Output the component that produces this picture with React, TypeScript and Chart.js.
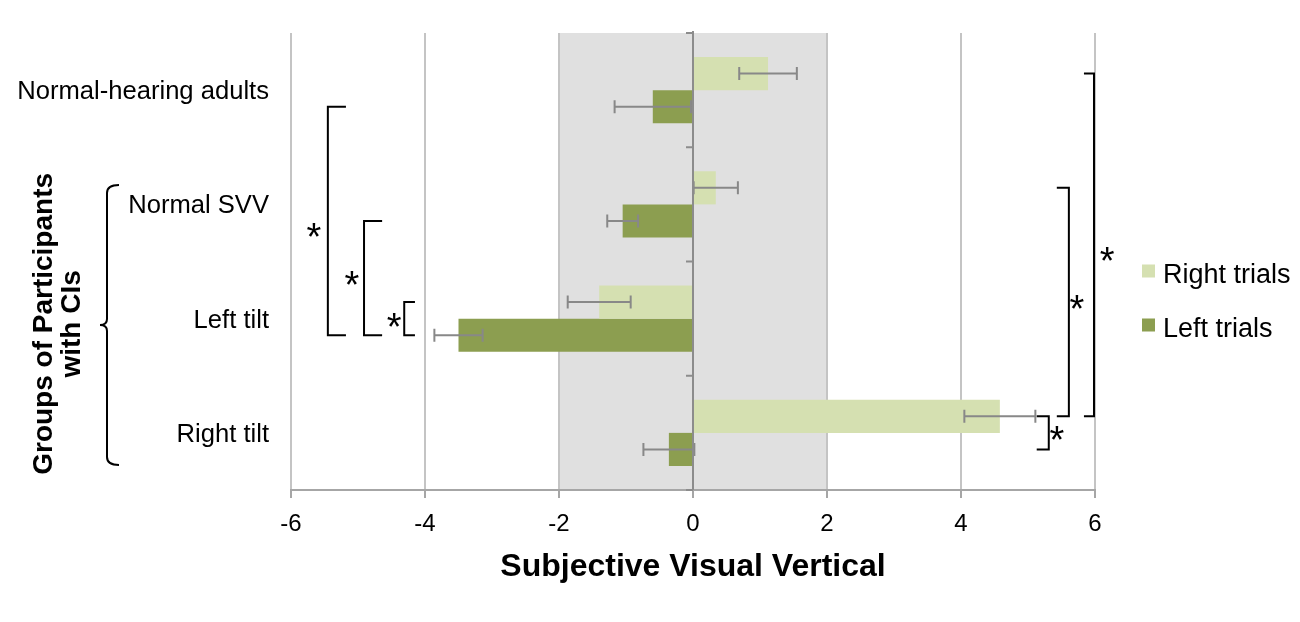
import React, { useEffect, useRef } from 'react';
import { Chart, registerables } from 'chart.js';

Chart.register(...registerables);

// ---------- data ----------
const categories = ['Normal-hearing adults', 'Normal SVV', 'Left tilt', 'Right tilt'];
const seriesNames = ['Right trials', 'Left trials'];
const rightTrials = [1.12, 0.34, -1.4, 4.58];
const rightErrors = [0.43, 0.33, 0.47, 0.53];
const leftTrials = [-0.6, -1.05, -3.5, -0.36];
const leftErrors = [0.57, 0.23, 0.36, 0.38];
const xMin = -6;
const xMax = 6;
const xStep = 2;
const normalRange = [-2, 2];
const yTitleLines = ['Groups of Participants', 'with CIs'];
const xTitle = 'Subjective Visual Vertical';

// significance brackets: vertical line at x (data units), joining bar [category, dataset] pairs
const brackets = [
  { x: -5.45, arm: 0.27, from: [0, 1], to: [2, 1], starX: -5.66, starShift: 9 },
  { x: -4.91, arm: 0.27, from: [1, 1], to: [2, 1], starX: -5.09, starShift: 0 },
  { x: -4.31, arm: 0.16, from: [2, 0], to: [2, 1], starX: -4.46, starShift: 1 },
  { x: 5.985, arm: -0.15, from: [0, 0], to: [3, 0], starX: 6.18, starShift: 9 },
  { x: 5.61, arm: -0.18, from: [1, 0], to: [3, 0], starX: 5.73, starShift: 0 },
  { x: 5.31, arm: -0.18, from: [3, 0], to: [3, 1], starX: 5.43, starShift: 0 },
];

const LIGHT = '#d5e0b1';
const DARK = '#8c9e50';
const FONT = "'Liberation Sans', Arial, Helvetica, sans-serif";

const overlay = {
  id: 'overlay',
  beforeDraw(chart: any) {
    const { ctx, chartArea } = chart;
    const xs = chart.scales.x;
    const a = xs.getPixelForValue(normalRange[0]);
    const b = xs.getPixelForValue(normalRange[1]);
    ctx.save();
    ctx.fillStyle = '#e0e0e0';
    ctx.fillRect(a, chartArea.top, b - a, chartArea.bottom - chartArea.top);
    ctx.restore();
  },
  afterDatasetsDraw(chart: any) {
    const { ctx, chartArea } = chart;
    const xs = chart.scales.x;
    const ys = chart.scales.y;
    const x0 = xs.getPixelForValue(0);
    ctx.save();

    // error bars
    const errs = [rightErrors, leftErrors];
    const vals = [rightTrials, leftTrials];
    ctx.strokeStyle = '#888888';
    ctx.lineWidth = 2;
    for (let d = 0; d < 2; d++) {
      const meta = chart.getDatasetMeta(d);
      meta.data.forEach((bar: any, i: number) => {
        const y = bar.y;
        const l = xs.getPixelForValue(vals[d][i] - errs[d][i]);
        const r = xs.getPixelForValue(vals[d][i] + errs[d][i]);
        ctx.beginPath();
        ctx.moveTo(l, y);
        ctx.lineTo(r, y);
        ctx.moveTo(l, y - 6.5);
        ctx.lineTo(l, y + 6.5);
        ctx.moveTo(r, y - 6.5);
        ctx.lineTo(r, y + 6.5);
        ctx.stroke();
      });
    }

    // zero axis with tick marks
    ctx.strokeStyle = '#8c8c8c';
    ctx.lineWidth = 2;
    ctx.beginPath();
    ctx.moveTo(x0, chartArea.top - 2);
    ctx.lineTo(x0, chartArea.bottom);
    for (let i = 0; i <= categories.length; i++) {
      const y = ys.getPixelForValue(i - 0.5);
      ctx.moveTo(x0 - 7, y);
      ctx.lineTo(x0, y);
    }
    ctx.stroke();

    // significance brackets
    ctx.strokeStyle = '#000000';
    ctx.lineWidth = 2;
    ctx.fillStyle = '#000000';
    ctx.font = `38px ${FONT}`;
    ctx.textAlign = 'center';
    ctx.textBaseline = 'alphabetic';
    const m = ctx.measureText('*');
    const starOff = (m.actualBoundingBoxAscent - m.actualBoundingBoxDescent) / 2;
    brackets.forEach((br) => {
      const y1 = chart.getDatasetMeta(br.from[1]).data[br.from[0]].y;
      const y2 = chart.getDatasetMeta(br.to[1]).data[br.to[0]].y;
      const xv = xs.getPixelForValue(br.x);
      const xa = xs.getPixelForValue(br.x + br.arm);
      ctx.beginPath();
      ctx.moveTo(xa, y1);
      ctx.lineTo(xv, y1);
      ctx.lineTo(xv, y2);
      ctx.lineTo(xa, y2);
      ctx.stroke();
      const sy = (y1 + y2) / 2 + br.starShift;
      ctx.fillText('*', xs.getPixelForValue(br.starX), sy + starOff);
    });

    // curly brace for CI groups
    const top = ys.getPixelForValue(1) - 19.5;
    const bot = ys.getPixelForValue(3) + 32;
    const mid = (top + bot) / 2;
    const bx = 107;
    ctx.beginPath();
    ctx.moveTo(bx + 12, top);
    ctx.quadraticCurveTo(bx, top, bx, top + 8);
    ctx.lineTo(bx, mid - 6);
    ctx.quadraticCurveTo(bx, mid, bx - 7, mid);
    ctx.quadraticCurveTo(bx, mid, bx, mid + 6);
    ctx.lineTo(bx, bot - 8);
    ctx.quadraticCurveTo(bx, bot, bx + 12, bot);
    ctx.stroke();

    // y title
    ctx.save();
    ctx.translate(0, mid - 1);
    ctx.rotate(-Math.PI / 2);
    ctx.font = `bold 28px ${FONT}`;
    ctx.textAlign = 'center';
    ctx.textBaseline = 'alphabetic';
    ctx.fillText(yTitleLines[0], 0, 52);
    ctx.fillText(yTitleLines[1], 0, 80);
    ctx.restore();

    // legend
    const colors = [LIGHT, DARK];
    ctx.font = `27px ${FONT}`;
    ctx.textAlign = 'left';
    ctx.textBaseline = 'alphabetic';
    seriesNames.forEach((name, k) => {
      const cy = chartArea.top + 238 + k * 54;
      const sx = chartArea.right + 47;
      ctx.fillStyle = colors[k];
      ctx.fillRect(sx, cy - 6.5, 13, 13);
      ctx.fillStyle = '#000000';
      ctx.fillText(name, sx + 21, cy + 11.5);
    });

    ctx.restore();
  },
};

export default function App() {
  const ref = useRef<HTMLCanvasElement | null>(null);
  useEffect(() => {
    document.body.style.margin = '0';
    if (!ref.current) return;
    const chart = new Chart(ref.current, {
      type: 'bar',
      data: {
        labels: categories,
        datasets: [
          { label: seriesNames[0], data: rightTrials, backgroundColor: LIGHT, borderWidth: 0 },
          { label: seriesNames[1], data: leftTrials, backgroundColor: DARK, borderWidth: 0 },
        ],
      },
      options: {
        indexAxis: 'y',
        responsive: false,
        animation: false,
        events: [],
        categoryPercentage: 0.58,
        barPercentage: 1.0,
        layout: { padding: { left: 0, right: 205, top: 33, bottom: 0 } },
        plugins: {
          legend: { display: false },
          tooltip: { enabled: false },
        },
        scales: {
          x: {
            type: 'linear',
            min: xMin,
            max: xMax,
            afterFit: (s: any) => {
              s.height = 132;
              s.paddingLeft = 0;
              s.paddingRight = 0;
            },
            ticks: {
              stepSize: xStep,
              color: '#000000',
              padding: 12,
              font: { family: FONT, size: 24 },
            },
            grid: {
              color: (c: any) => (c.tick && c.tick.value === 0 ? 'rgba(0,0,0,0)' : '#c4c4c4'),
              lineWidth: 2,
              tickLength: 8,
              tickColor: '#a6a6a6',
              drawOnChartArea: true,
            },
            border: { display: true, color: '#a6a6a6', width: 2 },
            title: {
              display: true,
              text: xTitle,
              color: '#000000',
              font: { family: FONT, size: 32, weight: 'bold' },
              padding: { top: 0, bottom: 36 },
            },
          },
          y: {
            type: 'category',
            afterFit: (s: any) => {
              s.width = 291;
              s.paddingTop = 0;
              s.paddingBottom = 0;
            },
            ticks: {
              color: '#000000',
              padding: 22,
              labelOffset: 2,
              font: { family: FONT, size: 25.6 },
            },
            grid: { display: false, drawTicks: false },
            border: { display: false },
          },
        },
      } as any,
      plugins: [overlay],
    });
    return () => chart.destroy();
  }, []);
  return (
    <div style={{ position: 'fixed', left: 0, top: 0, width: 1300, height: 622, background: '#ffffff' }}>
      <canvas ref={ref} width={1300} height={622} />
    </div>
  );
}
